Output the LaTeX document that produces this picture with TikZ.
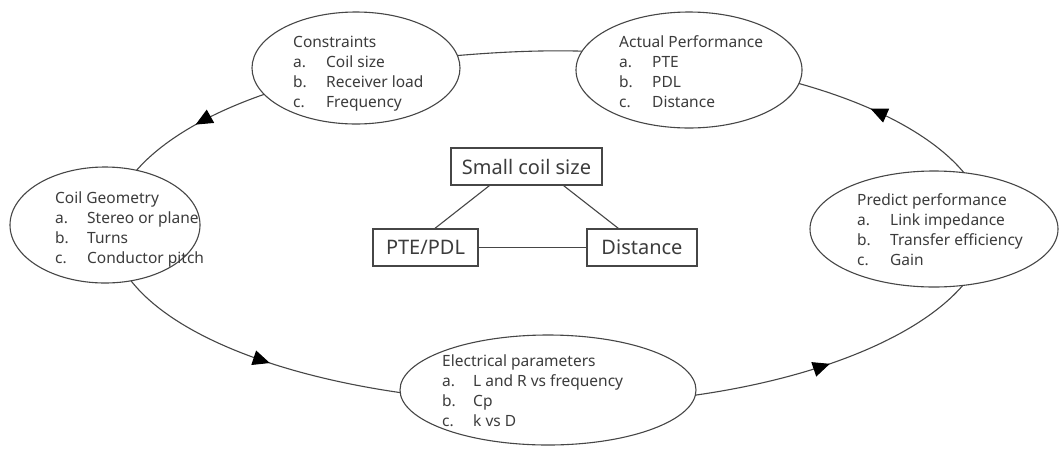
\documentclass[tikz,border=0pt]{standalone}
\usepackage{fontspec}
\setmainfont{Noto Sans}
\usetikzlibrary{shapes.geometric,decorations.markings,arrows.meta}
\definecolor{ink}{RGB}{60,60,60}
\definecolor{edge}{RGB}{70,70,70}
\newcommand\listtag[2][33pt]{\makebox[#1][l]{#2}}
\begin{document}
\begin{tikzpicture}[x=1pt,y=-1pt,
  stage/.style={ellipse, draw=edge, line width=1.1pt, fill=white, inner sep=0pt, outer sep=0pt},
  stagetext/.style={anchor=base west, inner sep=0pt, text=ink, font=\fontsize{15.5}{20}\selectfont},
  keybox/.style={rectangle, draw=edge, line width=1.1pt, inner sep=0pt, outer sep=0pt,
    minimum height=37pt, text=ink, font=\fontsize{20}{24}\selectfont},
  link/.style={draw=edge, line width=1.1pt},
  flowarrow/.style={postaction=decorate, decoration={markings,
    mark=at position #1 with {\arrow[black]{Triangle[length=17pt,width=15pt]}}}}
]
\fill[white] (0,0) rectangle (1062,448);
\useasboundingbox (0,0) rectangle (1062,448);

% stages of the design loop
\node[stage, minimum width=208pt, minimum height=112pt] (cons) at (356,68) {};
\node[stage, minimum width=226pt, minimum height=116pt] (act)  at (689,70) {};
\node[stage, minimum width=190pt, minimum height=116pt] (coil) at (105,225) {};
\node[stage, minimum width=248pt, minimum height=116pt] (pred) at (934,229) {};
\node[stage, minimum width=296pt, minimum height=110pt] (elec) at (548,390) {};

\node[stagetext] (consT) at (293,47) {\begin{tabular}[t]{@{}l@{}}
  Constraints\\ \listtag{a.}Coil size\\ \listtag{b.}Receiver load\\ \listtag{c.}Frequency
  \end{tabular}};
\node[stagetext] (actT) at (619,47) {\begin{tabular}[t]{@{}l@{}}
  Actual Performance\\ \listtag{a.}PTE\\ \listtag{b.}PDL\\ \listtag{c.}Distance
  \end{tabular}};
\node[stagetext] (coilT) at (55,203) {\begin{tabular}[t]{@{}l@{}}
  Coil Geometry\\ \listtag[32pt]{a.}Stereo or plane\\ \listtag[32pt]{b.}Turns\\ \listtag[32pt]{c.}Conductor pitch
  \end{tabular}};
\node[stagetext] (predT) at (857,205) {\begin{tabular}[t]{@{}l@{}}
  Predict performance\\ \listtag{a.}Link impedance\\ \listtag{b.}Transfer efficiency\\ \listtag{c.}Gain
  \end{tabular}};
\node[stagetext] (elecT) at (442,366) {\begin{tabular}[t]{@{}l@{}}
  Electrical parameters\\ \listtag[31pt]{a.}L and R vs frequency\\ \listtag[31pt]{b.}Cp\\ \listtag[31pt]{c.}k vs D
  \end{tabular}};

% trade-off triangle in the middle
\node[keybox, minimum width=151pt] (small) at (526.5,166.5) {Small coil size};
\node[keybox, minimum width=105pt] (pte)   at (425.5,247.5) {PTE/PDL};
\node[keybox, minimum width=110pt] (dist)  at (642,247.5) {Distance};
\draw[link] (small.207) -- (pte.65);
\draw[link] (small.333) -- (dist.141);
\draw[link] (pte.east) -- (dist.west);

% loop connectors, arcs of one large ellipse
\draw[link, flowarrow=0.5] (cons.196.2) .. controls +(-58.0,20.1) and +(25.3,-29.1) .. (coil.60.6);
\draw[link, flowarrow=0.55] (coil.295) .. controls +(41.1,52.4) and +(-128.6,-18.6) .. (elec.181.5);
\draw[link, flowarrow=0.47] (elec.358.5) .. controls +(125.6,-17.9) and +(-43.6,50.6) .. (pred.297.2);
\draw[link, flowarrow=0.6] (pred.62.8) .. controls +(-29.9,-36.0) and +(77.6,21.7) .. (act.353);
\draw[link] (act.170.8) .. controls +(-41.2,-1.2) and +(40.4,-3.45) .. (cons.7);
\end{tikzpicture}
\end{document}
